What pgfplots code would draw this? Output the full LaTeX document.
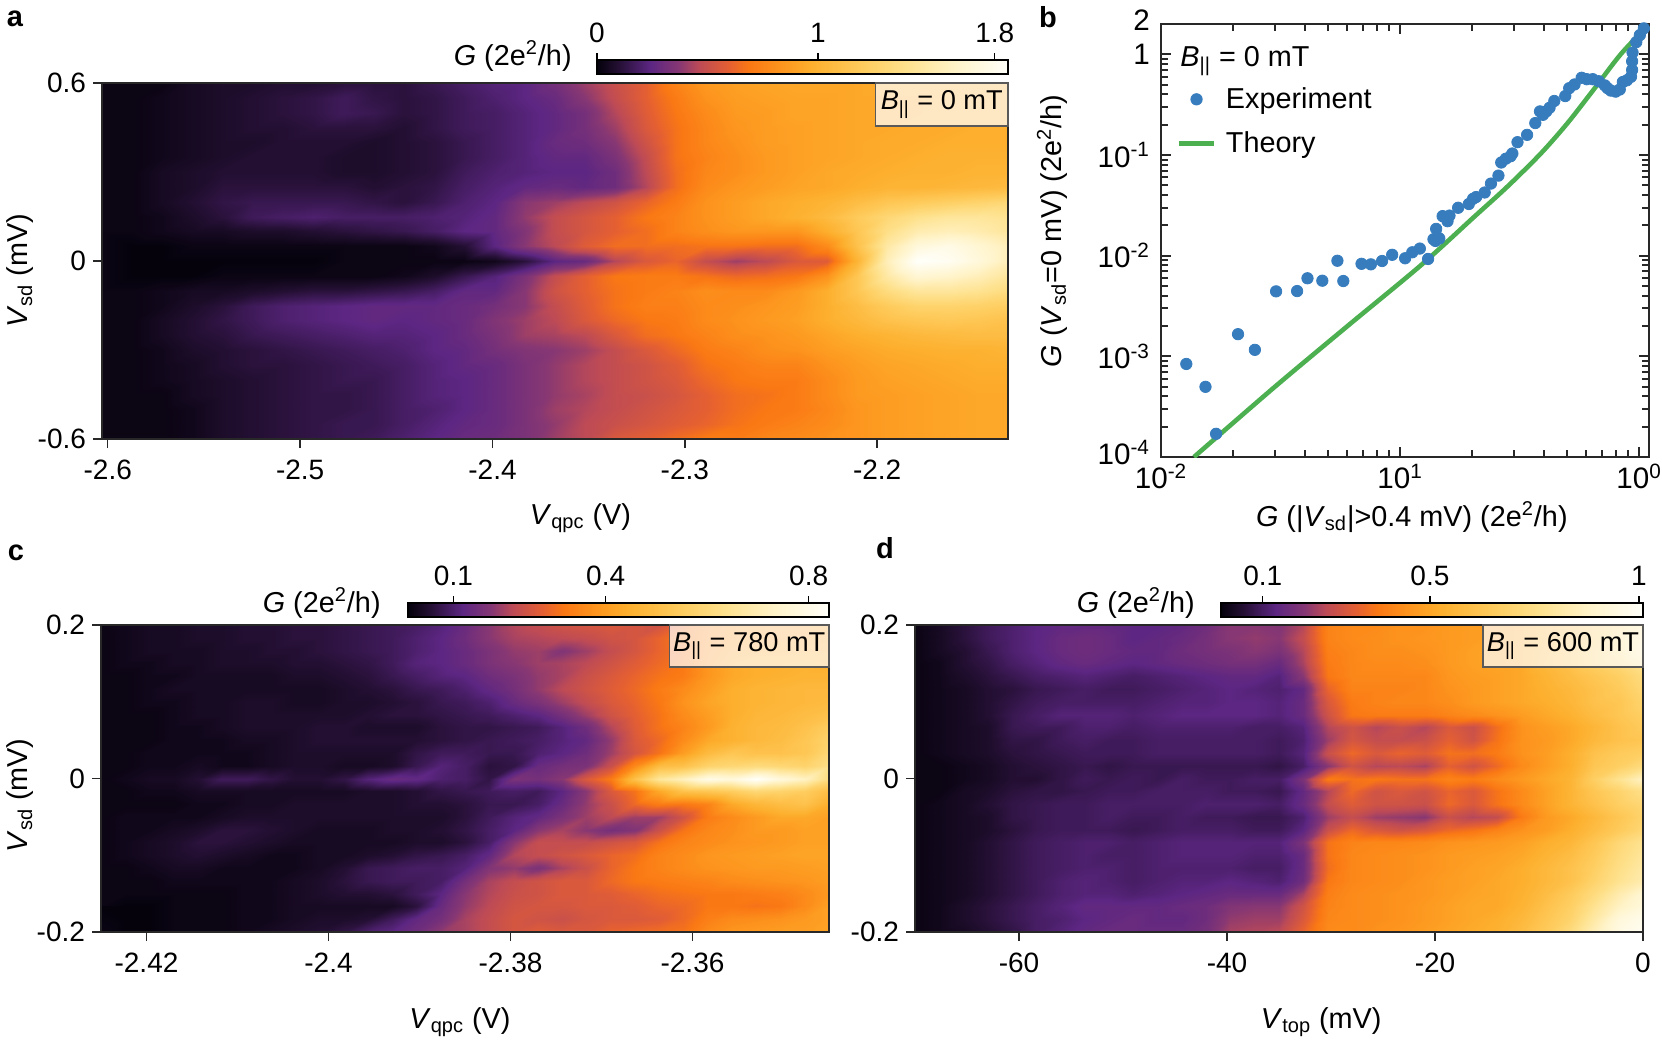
\documentclass[border=0pt]{standalone}
\usepackage{fontspec}
\setmainfont{Liberation Sans}
\usepackage{pgfplots}
\pgfplotsset{compat=1.18}

\def\u{0.5pt}
\def\lab{\fontsize{14.4}{16}\selectfont}
\def\tkl{\fontsize{14}{16}\selectfont}
\definecolor{axcol}{RGB}{40,40,40}
\definecolor{expblue}{RGB}{55,125,190}
\definecolor{thgreen}{RGB}{76,175,80}

\pgfplotsset{
  /pgf/number format/assume math mode=true,
  colormap={gmap}{rgb255(0pt)=(5,2,12) rgb255(5pt)=(35,15,50) rgb255(13pt)=(92,38,130) rgb255(20pt)=(135,55,115)
    rgb255(25pt)=(190,75,85) rgb255(32pt)=(228,95,50) rgb255(37pt)=(250,120,20) rgb255(45pt)=(253,150,30)
    rgb255(52pt)=(253,175,45) rgb255(65pt)=(254,205,95) rgb255(75pt)=(254,225,140) rgb255(87pt)=(255,243,200) rgb255(100pt)=(255,255,250)},
  heat/.style={scale only axis, axis on top, anchor=south west,
    tick label style={font=\tkl}, label style={font=\lab}, tick align=outside, tick pos=lower,
    xticklabel style={yshift=-2.6pt},
    major tick length=4.5pt, axis line style={line width=0.8pt,axcol}, every tick/.style={line width=0.7pt,axcol},
    colormap name=gmap, colorbar horizontal},
  cbar/.style={xticklabel pos=upper, xtick pos=upper, tick align=outside, ytick=\empty, scale only axis, height=7pt,
    major tick length=3.5pt, axis line style={line width=0.8pt,black}, every tick/.style={line width=0.7pt,black},
    xticklabel style={yshift=1.6pt,font=\tkl}},
}

\begin{document}
\begin{tikzpicture}
\useasboundingbox (0,0) rectangle (1662*\u,-1044*\u);

% panel a
\begin{axis}[heat, at={(102*\u,-439*\u)}, width=906*\u, height=356*\u,
  xmin=-2.603, xmax=-2.132, ymin=-0.6, ymax=0.6,
  xtick={-2.6,-2.5,...,-2.2}, ytick={-0.6,0,0.6},
  xlabel={\textit{V}\textsubscript{qpc} (V)}, ylabel={\textit{V}\textsubscript{sd} (mV)},
  xlabel style={at={(axis description cs:0.528,-0.222)},anchor=center},
  ylabel style={at={(axis description cs:-0.0905,0.472)},anchor=center},
  point meta min=0, point meta max=1.86,
  colorbar style={cbar, at={(1,1.025)}, anchor=south east, width=411*\u, xtick={0,1,1.8}, xticklabels={0,1,1.8}}]
\addplot[surf, shader=interp, mesh/cols=31, point meta={\thisrow{z}*0.0186}]
  table[row sep=crcr, x expr={-2.603+0.471/30*mod(\coordindex,31)}, y expr={0.6-0.05*floor(\coordindex/31)}] {z\\
1\\1\\1\\3\\4\\4\\5\\5\\6\\6\\6\\8\\10\\12\\13\\17\\22\\27\\32\\40\\46\\48\\49\\50\\50\\50\\51\\51\\52\\52\\52\\
1\\1\\2\\3\\4\\5\\6\\7\\9\\7\\6\\7\\9\\11\\13\\15\\20\\26\\32\\38\\44\\47\\48\\49\\49\\50\\50\\50\\51\\51\\52\\
1\\1\\2\\3\\4\\5\\6\\7\\9\\8\\6\\7\\9\\10\\12\\14\\17\\24\\31\\37\\42\\46\\47\\49\\49\\50\\50\\50\\51\\51\\52\\
1\\1\\2\\3\\4\\5\\5\\6\\6\\6\\5\\7\\9\\10\\12\\14\\17\\22\\30\\36\\41\\45\\47\\48\\49\\50\\50\\51\\51\\52\\52\\
1\\1\\2\\3\\4\\4\\5\\5\\5\\4\\5\\6\\8\\10\\12\\15\\16\\20\\28\\36\\41\\44\\47\\48\\49\\50\\51\\51\\52\\52\\52\\
1\\1\\2\\3\\4\\5\\5\\5\\4\\4\\5\\6\\8\\10\\12\\14\\14\\18\\26\\36\\40\\43\\46\\48\\49\\50\\51\\52\\53\\53\\53\\
1\\1\\3\\4\\5\\5\\5\\5\\4\\4\\5\\6\\9\\11\\12\\13\\13\\16\\25\\35\\41\\43\\46\\48\\50\\51\\52\\53\\53\\54\\54\\
1\\1\\3\\4\\6\\6\\6\\6\\6\\5\\6\\7\\10\\12\\14\\15\\14\\16\\24\\35\\42\\45\\47\\49\\50\\52\\54\\54\\55\\56\\57\\
1\\1\\3\\5\\7\\8\\8\\8\\8\\7\\6\\8\\11\\13\\20\\22\\25\\28\\33\\38\\44\\47\\50\\52\\54\\58\\62\\64\\66\\68\\70\\
1\\1\\2\\4\\6\\9\\10\\11\\10\\10\\10\\11\\12\\14\\21\\26\\29\\32\\37\\40\\44\\47\\50\\53\\57\\64\\70\\75\\78\\78\\76\\
1\\1\\2\\3\\3\\4\\4\\5\\6\\7\\8\\10\\13\\14\\19\\26\\29\\32\\35\\40\\43\\45\\45\\45\\52\\62\\74\\82\\84\\82\\78\\
1\\0\\0\\1\\1\\1\\1\\1\\1\\1\\1\\2\\5\\13\\20\\25\\31\\35\\35\\35\\36\\36\\35\\35\\42\\60\\80\\92\\95\\90\\84\\
1\\0\\0\\0\\0\\0\\0\\0\\1\\1\\1\\1\\1\\2\\6\\13\\15\\24\\30\\33\\26\\22\\25\\30\\31\\54\\84\\100\\98\\92\\84\\
1\\0\\0\\0\\1\\1\\1\\1\\1\\1\\2\\4\\8\\12\\18\\26\\32\\37\\38\\38\\36\\34\\35\\37\\44\\62\\80\\90\\88\\84\\78\\
1\\1\\2\\3\\3\\4\\5\\6\\6\\7\\8\\10\\14\\14\\20\\28\\32\\36\\38\\40\\43\\42\\42\\46\\52\\62\\72\\78\\78\\76\\72\\
1\\1\\2\\4\\6\\9\\11\\12\\13\\14\\14\\14\\15\\17\\20\\26\\31\\36\\39\\39\\42\\43\\45\\47\\52\\58\\64\\68\\68\\67\\65\\
1\\1\\3\\5\\7\\9\\11\\12\\13\\14\\13\\14\\15\\19\\22\\25\\30\\34\\37\\38\\42\\44\\46\\48\\52\\56\\60\\62\\63\\62\\60\\
1\\1\\3\\5\\6\\8\\9\\10\\11\\12\\12\\13\\15\\18\\22\\23\\25\\30\\35\\37\\40\\43\\44\\46\\49\\52\\54\\56\\57\\58\\58\\
1\\1\\2\\4\\5\\6\\7\\8\\9\\10\\11\\13\\14\\17\\19\\20\\22\\26\\30\\34\\38\\40\\43\\44\\47\\49\\51\\52\\53\\53\\54\\
1\\1\\2\\3\\5\\6\\6\\7\\8\\9\\10\\12\\14\\15\\18\\21\\24\\26\\28\\31\\36\\38\\40\\40\\44\\47\\49\\50\\51\\52\\52\\
1\\1\\2\\3\\4\\5\\6\\7\\8\\8\\10\\12\\13\\15\\18\\21\\24\\26\\28\\30\\34\\37\\38\\38\\42\\46\\48\\49\\50\\51\\51\\
1\\1\\1\\3\\4\\5\\6\\7\\7\\8\\10\\12\\13\\15\\18\\21\\23\\26\\27\\29\\32\\35\\36\\38\\42\\46\\47\\48\\49\\50\\50\\
1\\1\\1\\2\\4\\5\\6\\7\\7\\8\\10\\11\\13\\15\\18\\22\\24\\26\\28\\30\\32\\35\\37\\38\\41\\45\\47\\48\\49\\50\\50\\
1\\1\\1\\2\\4\\5\\6\\7\\8\\8\\10\\12\\14\\15\\18\\21\\25\\27\\29\\31\\33\\36\\38\\40\\42\\45\\47\\48\\49\\50\\50\\
1\\1\\1\\2\\4\\5\\6\\7\\8\\9\\11\\13\\15\\16\\18\\22\\25\\30\\32\\35\\38\\38\\41\\42\\44\\45\\47\\48\\49\\50\\50\\
};
\end{axis}

% panel b
\begin{axis}[scale only axis, anchor=south west, at={(1161*\u,-457*\u)}, width=488*\u, height=433*\u,
  xmode=log, ymode=log, xmin=0.01, xmax=1.1, ymin=1e-4, ymax=2,
  tick label style={font=\fontsize{14.8}{16}\selectfont}, label style={font=\lab},
  yticklabel style={xshift=-2pt},
  tick align=inside, major tick length=4.8pt, minor tick length=3.4pt,
  axis line style={line width=1.1pt,axcol}, every tick/.style={line width=1pt,axcol}, every minor tick/.style={line width=1pt,axcol},
  xtick={0.01,0.1,1}, xticklabels={10\textsuperscript{-2},10\textsuperscript{1},10\textsuperscript{0}},
  minor xtick={0.02,0.03,0.04,0.05,0.06,0.07,0.08,0.09,0.2,0.3,0.4,0.5,0.6,0.7,0.8,0.9},
  ytick={1e-4,1e-3,1e-2,1e-1,1,2},
  yticklabels={\raisebox{4.8pt}{10\textsuperscript{-4}},10\textsuperscript{-3},10\textsuperscript{-2},10\textsuperscript{-1},1,\raisebox{3.7pt}{2}},
  minor ytick={2e-4,3e-4,4e-4,5e-4,6e-4,7e-4,8e-4,9e-4,2e-3,3e-3,4e-3,5e-3,6e-3,7e-3,8e-3,9e-3,2e-2,3e-2,4e-2,5e-2,6e-2,7e-2,8e-2,9e-2,0.2,0.3,0.4,0.5,0.6,0.7,0.8,0.9},
  xlabel={\textit{G} (|\textit{V}\textsubscript{sd}|>0.4 mV) (2e\textsuperscript{2}/h)},
  ylabel={\textit{G} (\textit{V}\textsubscript{sd}=0 mV) (2e\textsuperscript{2}/h)},
  xlabel style={at={(axis description cs:0.514,-0.139)},anchor=center},
  ylabel style={at={(axis description cs:-0.223,0.522)},anchor=center},
  legend style={at={(axis description cs:0.02,0.873)},anchor=north west,draw=none,fill=none,row sep=6pt,font=\lab},
  legend cell align=left]
\addplot[only marks, mark=*, mark size=2.85pt, color=expblue, mark options={draw=none,fill=expblue}] coordinates {
(.01276,8.4e-4)(.01535,4.98e-4)(.0170,1.7e-4)(.0210,1.66e-3)(.0247,1.16e-3)(.0303,4.42e-3)(.0371,4.45e-3)
(.0410,5.96e-3)(.0473,5.64e-3)(.0547,8.9e-3)(.0579,5.6e-3)(.0690,8.3e-3)(.0755,8.2e-3)(.0841,8.85e-3)
(.0927,.0102)(.105,.00942)(.1125,.0108)(.121,.01176)(.131,.00927)(.138,.01455)(.1416,.01845)(.144,.01515)
(.1406,.0140)(.146,.0148)(.1507,.0247)(.161,.0250)(.158,.0220)(.175,.0299)(.194,.0326)(.202,.0367)(.208,.0382)
(.226,.0424)(.240,.0520)(.258,.0624)(.265,.0842)(.277,.0918)(.290,.0971)(.295,.1035)(.310,.134)(.340,.1585)
(.368,.2075)(.385,.271)(.396,.2506)(.409,.271)(.422,.294)(.442,.344)(.491,.385)(.510,.461)(.537,.502)(.575,.585)
(.604,.566)(.640,.566)(.678,.540)(.719,.491)(.738,.461)(.762,.436)(.798,.426)(.830,.447)(.855,.531)(.889,.552)
(.925,.598)(.935,.70)(.935,.853)(.939,1.04)(.973,1.32)(1.007,1.55)(1.047,1.81)};
\addlegendentry{\hspace*{3pt}Experiment}
\addplot[smooth, line width=2.3pt, color=thgreen] coordinates {
(.01374,1e-4)(.0297,4.9e-4)(.0603,2.0e-3)(.1222,8.02e-3)(.2042,.0243)(.2812,.0485)(.3882,.1035)(.5012,.2065)(.6457,.4467)(.8375,1.0)(1.084,1.914)};
\addlegendentry{\hspace*{3pt}Theory}
\end{axis}

% panel c
\begin{axis}[heat, at={(101*\u,-932*\u)}, width=728*\u, height=307*\u,
  xmin=-2.425, xmax=-2.345, ymin=-0.2, ymax=0.2,
  xtick={-2.42,-2.4,-2.38,-2.36}, xticklabels={-2.42,-2.4,-2.38,-2.36}, ytick={-0.2,0,0.2},
  xlabel={\textit{V}\textsubscript{qpc} (V)}, ylabel={\textit{V}\textsubscript{sd} (mV)},
  xlabel style={at={(axis description cs:0.493,-0.293)},anchor=center},
  ylabel style={at={(axis description cs:-0.111,0.445)},anchor=center},
  point meta min=0.0105, point meta max=0.84,
  colorbar style={cbar, at={(1,1.026)}, anchor=south east, width=421*\u, xtick={0.1,0.4,0.8}, xticklabels={0.1,0.4,0.8}}]
\addplot[surf, shader=interp, mesh/cols=31, point meta={0.0105+\thisrow{z}*0.0083}]
  table[row sep=crcr, x expr={-2.425+0.08/30*mod(\coordindex,31)}, y expr={0.2-0.4/24*floor(\coordindex/31)}] {z\\
1\\2\\3\\3\\4\\4\\5\\5\\6\\6\\7\\8\\9\\10\\12\\15\\20\\24\\26\\28\\29\\30\\29\\28\\34\\42\\46\\47\\48\\48\\49\\
1\\2\\3\\3\\4\\4\\5\\5\\6\\6\\7\\8\\9\\11\\13\\16\\20\\23\\24\\25\\26\\28\\29\\33\\37\\43\\46\\47\\48\\48\\49\\
1\\2\\3\\3\\3\\4\\4\\5\\5\\6\\7\\8\\9\\11\\13\\15\\18\\21\\22\\19\\22\\26\\29\\33\\36\\44\\48\\49\\49\\50\\50\\
1\\2\\2\\3\\3\\4\\4\\4\\5\\5\\6\\7\\9\\12\\13\\15\\18\\20\\22\\23\\25\\28\\31\\34\\37\\45\\50\\52\\52\\53\\52\\
1\\1\\2\\2\\3\\3\\3\\3\\4\\4\\5\\6\\8\\10\\12\\13\\16\\18\\21\\23\\27\\30\\33\\36\\38\\45\\50\\52\\53\\54\\54\\
1\\1\\2\\3\\3\\3\\3\\3\\3\\3\\4\\5\\6\\8\\9\\11\\14\\17\\21\\25\\28\\31\\34\\38\\42\\47\\52\\54\\55\\56\\56\\
1\\1\\2\\2\\3\\3\\4\\4\\3\\3\\4\\4\\5\\6\\8\\9\\11\\15\\18\\22\\26\\30\\33\\37\\44\\49\\52\\54\\55\\56\\57\\
1\\1\\1\\2\\3\\3\\4\\4\\4\\4\\4\\5\\6\\6\\7\\8\\9\\11\\13\\17\\22\\28\\32\\36\\42\\47\\52\\55\\56\\58\\60\\
1\\1\\1\\2\\2\\3\\4\\4\\4\\5\\5\\4\\4\\4\\6\\7\\7\\8\\9\\12\\16\\24\\31\\36\\40\\46\\53\\56\\57\\60\\65\\
1\\1\\1\\2\\2\\2\\3\\3\\4\\5\\5\\5\\5\\5\\6\\7\\8\\9\\10\\12\\14\\21\\30\\34\\42\\50\\53\\56\\58\\62\\68\\
1\\1\\2\\2\\2\\2\\2\\3\\4\\4\\4\\4\\4\\7\\9\\9\\8\\8\\11\\13\\16\\22\\29\\36\\47\\57\\62\\60\\60\\62\\70\\
1\\1\\2\\2\\3\\2\\2\\3\\4\\4\\3\\3\\4\\8\\12\\10\\6\\7\\15\\17\\18\\27\\42\\58\\60\\68\\70\\72\\70\\68\\74\\
1\\2\\3\\3\\5\\9\\9\\7\\5\\5\\7\\12\\15\\14\\11\\10\\7\\18\\17\\20\\30\\38\\60\\78\\85\\95\\92\\100\\92\\86\\72\\
1\\1\\2\\2\\3\\3\\3\\3\\3\\3\\3\\4\\4\\5\\7\\8\\9\\10\\9\\13\\20\\30\\36\\50\\60\\62\\65\\70\\68\\65\\58\\
1\\1\\1\\1\\2\\2\\3\\3\\4\\4\\4\\4\\4\\5\\5\\6\\8\\8\\10\\15\\21\\27\\34\\38\\37\\40\\50\\55\\58\\60\\52\\
1\\2\\2\\2\\2\\3\\4\\4\\4\\4\\4\\4\\4\\4\\4\\6\\9\\12\\14\\18\\22\\25\\22\\22\\28\\38\\42\\46\\50\\50\\48\\
1\\2\\2\\3\\4\\6\\6\\5\\4\\3\\3\\3\\4\\4\\5\\7\\10\\13\\20\\23\\20\\17\\19\\27\\36\\41\\43\\46\\46\\48\\48\\
1\\2\\3\\4\\6\\6\\5\\4\\3\\3\\3\\3\\3\\4\\4\\6\\10\\20\\26\\26\\26\\28\\30\\36\\40\\42\\44\\45\\46\\48\\48\\
1\\2\\3\\4\\5\\4\\3\\2\\2\\3\\3\\4\\5\\7\\8\\10\\14\\24\\26\\28\\30\\33\\35\\40\\42\\45\\46\\47\\48\\49\\49\\
1\\1\\2\\3\\3\\2\\2\\2\\2\\3\\5\\8\\9\\10\\10\\12\\19\\21\\18\\23\\27\\33\\37\\40\\42\\44\\45\\46\\46\\47\\48\\
1\\1\\1\\2\\2\\2\\2\\2\\3\\4\\6\\8\\9\\9\\10\\17\\23\\26\\28\\30\\30\\34\\37\\38\\39\\40\\42\\43\\44\\45\\47\\
1\\1\\1\\1\\1\\1\\2\\2\\3\\4\\5\\5\\6\\9\\13\\20\\24\\27\\28\\30\\30\\31\\33\\35\\36\\37\\37\\38\\39\\42\\46\\
1\\0\\0\\1\\1\\1\\2\\2\\3\\3\\3\\3\\3\\6\\15\\21\\25\\28\\29\\29\\30\\30\\31\\33\\34\\37\\37\\36\\37\\42\\48\\
0\\0\\0\\1\\1\\1\\2\\2\\3\\4\\4\\5\\9\\14\\17\\23\\26\\29\\28\\27\\29\\30\\30\\31\\34\\39\\42\\43\\44\\46\\48\\
1\\0\\0\\1\\1\\1\\2\\3\\4\\5\\7\\11\\13\\16\\21\\23\\26\\29\\31\\30\\30\\33\\34\\35\\36\\42\\45\\46\\47\\47\\49\\
};
\end{axis}

% panel d
\begin{axis}[heat, at={(915*\u,-932*\u)}, width=728*\u, height=307*\u,
  xmin=-70, xmax=0, ymin=-0.2, ymax=0.2,
  xtick={-60,-40,-20,0}, ytick={-0.2,0,0.2},
  xlabel={\textit{V}\textsubscript{top} (mV)},
  xlabel style={at={(axis description cs:0.558,-0.293)},anchor=center},
  point meta min=0, point meta max=1.01,
  colorbar style={cbar, at={(1,1.026)}, anchor=south east, width=422*\u, xtick={0.1,0.5,1}, xticklabels={0.1,0.5,1}}]
\addplot[surf, shader=interp, mesh/cols=31, point meta={\thisrow{z}*0.0101}]
  table[row sep=crcr, x expr={-70+70/30*mod(\coordindex,31)}, y expr={0.2-0.4/24*floor(\coordindex/31)}] {z\\
1\\3\\6\\9\\11\\13\\14\\14\\14\\13\\13\\14\\16\\20\\20\\19\\24\\40\\42\\42\\44\\44\\46\\47\\48\\50\\54\\58\\64\\70\\78\\
1\\3\\6\\9\\11\\13\\15\\16\\15\\13\\14\\15\\17\\20\\21\\20\\26\\40\\42\\43\\44\\45\\46\\47\\48\\50\\54\\58\\64\\72\\80\\
1\\3\\5\\8\\11\\13\\15\\16\\15\\14\\14\\16\\17\\18\\20\\18\\24\\39\\41\\43\\43\\44\\46\\48\\49\\50\\55\\60\\66\\72\\82\\
1\\2\\5\\7\\10\\12\\14\\15\\14\\13\\14\\15\\16\\17\\17\\15\\23\\38\\41\\42\\42\\43\\46\\48\\49\\50\\56\\60\\66\\70\\76\\
1\\2\\4\\6\\8\\10\\11\\12\\11\\10\\11\\12\\13\\14\\14\\12\\20\\37\\41\\41\\41\\41\\45\\47\\48\\50\\54\\58\\62\\66\\72\\
1\\2\\3\\5\\6\\8\\9\\10\\9\\9\\10\\11\\12\\13\\12\\11\\14\\33\\40\\40\\40\\41\\44\\46\\48\\50\\53\\56\\60\\64\\70\\
1\\2\\3\\5\\7\\9\\10\\10\\10\\10\\11\\12\\12\\13\\13\\12\\15\\30\\38\\40\\41\\41\\43\\46\\48\\50\\52\\55\\60\\62\\68\\
1\\2\\3\\5\\8\\10\\12\\12\\12\\11\\12\\13\\13\\13\\13\\12\\15\\28\\37\\38\\38\\38\\40\\42\\44\\47\\50\\53\\58\\62\\66\\
1\\2\\3\\4\\8\\9\\9\\11\\11\\10\\11\\11\\11\\11\\10\\10\\12\\24\\28\\24\\27\\24\\30\\27\\35\\44\\47\\50\\55\\60\\64\\
1\\2\\3\\4\\7\\7\\9\\10\\9\\9\\10\\10\\10\\10\\10\\9\\11\\22\\29\\26\\26\\27\\32\\28\\36\\44\\46\\50\\56\\60\\62\\
1\\2\\3\\4\\6\\7\\8\\9\\9\\9\\10\\10\\10\\10\\10\\9\\12\\27\\34\\30\\33\\31\\36\\35\\38\\44\\47\\52\\60\\64\\66\\
1\\1\\2\\3\\5\\6\\7\\8\\7\\8\\8\\8\\8\\8\\8\\7\\10\\20\\28\\24\\25\\23\\32\\28\\34\\42\\47\\52\\62\\66\\72\\
1\\1\\2\\3\\5\\5\\7\\9\\8\\9\\8\\10\\9\\9\\10\\10\\18\\38\\36\\37\\36\\36\\40\\38\\42\\46\\50\\54\\66\\76\\86\\
1\\1\\3\\4\\6\\7\\7\\8\\9\\9\\10\\10\\10\\9\\9\\8\\14\\24\\34\\28\\30\\28\\33\\30\\36\\42\\48\\54\\62\\68\\74\\
1\\2\\3\\5\\7\\8\\9\\9\\10\\10\\10\\10\\11\\11\\11\\10\\15\\26\\31\\28\\28\\27\\34\\30\\36\\42\\48\\54\\60\\66\\70\\
1\\2\\3\\4\\7\\8\\9\\9\\10\\9\\9\\10\\9\\9\\8\\8\\11\\22\\26\\22\\21\\20\\27\\24\\26\\38\\46\\50\\56\\62\\68\\
1\\2\\3\\4\\6\\8\\9\\9\\9\\8\\9\\10\\10\\10\\9\\9\\13\\27\\34\\30\\28\\30\\34\\36\\40\\44\\47\\52\\58\\64\\70\\
1\\2\\3\\5\\7\\9\\10\\11\\11\\10\\11\\12\\12\\12\\12\\12\\18\\36\\40\\41\\41\\42\\44\\45\\46\\48\\52\\55\\62\\70\\76\\
1\\2\\3\\5\\7\\9\\10\\11\\10\\10\\11\\12\\12\\12\\11\\11\\15\\36\\41\\42\\43\\44\\46\\47\\48\\50\\54\\58\\64\\72\\78\\
1\\2\\3\\5\\7\\9\\10\\11\\11\\10\\11\\11\\11\\11\\10\\10\\15\\35\\41\\42\\43\\44\\46\\48\\49\\52\\56\\60\\66\\74\\80\\
1\\2\\3\\5\\7\\9\\11\\12\\11\\10\\11\\12\\12\\13\\12\\11\\16\\37\\41\\42\\43\\45\\47\\48\\50\\52\\56\\60\\68\\76\\82\\
1\\2\\3\\5\\7\\9\\11\\12\\12\\11\\12\\13\\14\\15\\15\\15\\23\\39\\42\\43\\44\\45\\47\\49\\50\\53\\58\\64\\72\\82\\90\\
1\\2\\4\\6\\8\\10\\12\\14\\14\\14\\14\\15\\16\\19\\20\\20\\28\\40\\42\\43\\44\\46\\48\\50\\50\\54\\60\\66\\76\\86\\92\\
1\\2\\4\\6\\8\\10\\11\\13\\14\\15\\14\\14\\16\\21\\22\\22\\30\\41\\42\\43\\44\\46\\48\\50\\52\\56\\62\\68\\80\\92\\96\\
1\\2\\3\\5\\7\\10\\12\\14\\15\\15\\15\\15\\17\\23\\24\\25\\33\\42\\42\\44\\45\\47\\49\\51\\53\\58\\64\\72\\84\\94\\98\\
};
\end{axis}

% inset boxes and free text
\foreach \xa/\xb/\ya/\yb/\txt in {875.5/1008/83/126/0 mT, 669.5/829/625/667/780 mT, 1483/1643/625/667/600 mT}{
  \fill[white, opacity=0.72] (\xa*\u,-\ya*\u) rectangle (\xb*\u,-\yb*\u);
  \draw[line width=0.6pt, black!65] (\xa*\u,-\ya*\u) rectangle (\xb*\u,-\yb*\u);
  \node[font=\fontsize{13.6}{16}\selectfont, anchor=center] at ({(\xa+\xb)/2*\u},{-(\ya+\yb)/2*\u}) {\textit{B}\textsubscript{||} = \txt};
}
\node[font=\lab, anchor=base west, inner sep=0pt] at (1180*\u,-67*\u) {\textit{B}\textsubscript{||} = 0 mT};
\node[font=\lab, anchor=base east, inner sep=0pt] at (572*\u,-65*\u) {\textit{G} (2e\textsuperscript{2}/h)};
\node[font=\lab, anchor=base east, inner sep=0pt] at (381*\u,-612*\u) {\textit{G} (2e\textsuperscript{2}/h)};
\node[font=\lab, anchor=base east, inner sep=0pt] at (1195*\u,-612*\u) {\textit{G} (2e\textsuperscript{2}/h)};
\foreach \x/\y/\l in {15/19/a, 1048/17/b, 16/553/c, 885/548/d}
  \node[font=\fontsize{14.5}{16}\selectfont\bfseries, anchor=center] at (\x*\u,-\y*\u) {\l};
\end{tikzpicture}
\end{document}
